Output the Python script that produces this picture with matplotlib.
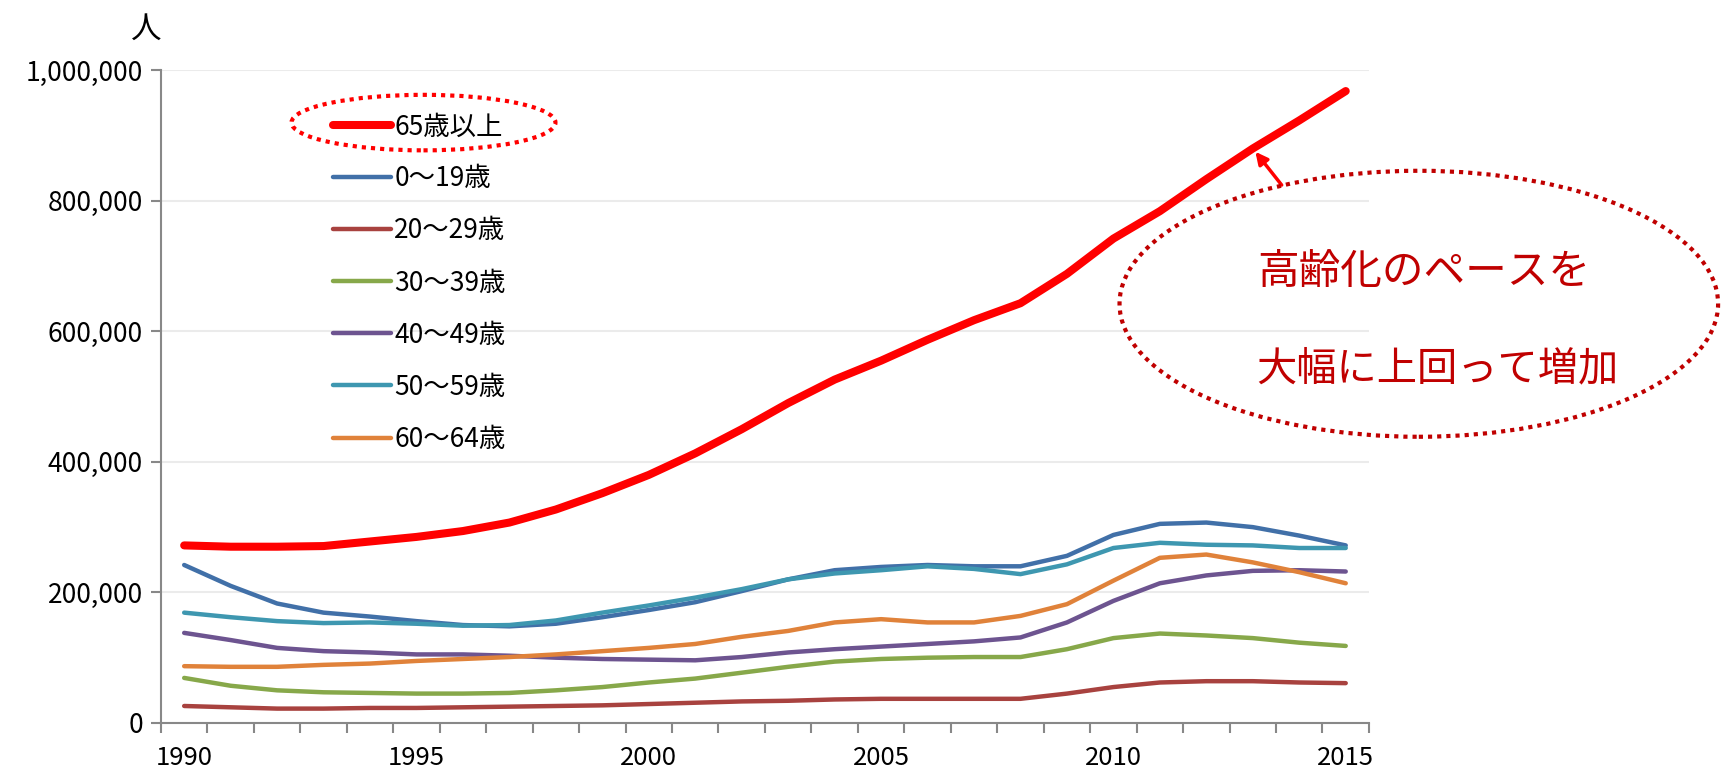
import matplotlib
matplotlib.use("Agg")
import matplotlib.pyplot as plt
from matplotlib.patches import Ellipse
from matplotlib.ticker import FuncFormatter
import numpy as np

plt.rcParams['font.family'] = ['Noto Sans CJK JP', 'DejaVu Sans']

years = list(range(1990, 2016))

# values (people)
age_65_over = [272000, 270000, 270000, 271000, 278000, 285000, 294000, 307000, 327000, 352000,
               380000, 413000, 450000, 490000, 526000, 555000, 587000, 617000, 643000, 688000,
               742000, 784000, 833000, 880000, 923000, 968000]
age_0_19 = [242000, 210000, 183000, 169000, 163000, 156000, 150000, 148000, 152000, 162000,
            173000, 185000, 202000, 220000, 234000, 239000, 242000, 240000, 240000, 256000,
            288000, 305000, 307000, 300000, 287000, 272000]
age_20_29 = [26000, 24000, 22000, 22000, 23000, 23000, 24000, 25000, 26000, 27000,
             29000, 31000, 33000, 34000, 36000, 37000, 37000, 37000, 37000, 45000,
             55000, 62000, 64000, 64000, 62000, 61000]
age_30_39 = [69000, 57000, 50000, 47000, 46000, 45000, 45000, 46000, 50000, 55000,
             62000, 68000, 77000, 86000, 94000, 98000, 100000, 101000, 101000, 113000,
             130000, 137000, 134000, 130000, 123000, 118000]
age_40_49 = [138000, 127000, 115000, 110000, 108000, 105000, 105000, 103000, 100000, 98000,
             97000, 96000, 101000, 108000, 113000, 117000, 121000, 125000, 131000, 154000,
             187000, 214000, 226000, 233000, 234000, 232000]
age_50_59 = [169000, 162000, 156000, 153000, 154000, 152000, 149000, 150000, 157000, 169000,
             180000, 192000, 205000, 220000, 229000, 234000, 240000, 236000, 228000, 243000,
             268000, 276000, 273000, 272000, 268000, 268000]
age_60_64 = [87000, 86000, 86000, 89000, 91000, 95000, 98000, 101000, 105000, 110000,
             115000, 121000, 132000, 141000, 154000, 159000, 154000, 154000, 164000, 182000,
             218000, 253000, 258000, 246000, 231000, 214000]

labels = ["65歳以上", "0〜19歳", "20〜29歳", "30〜39歳", "40〜49歳", "50〜59歳", "60〜64歳"]
colors = ["#FF0000", "#4170A8", "#A8423F", "#87A84A", "#6D5490", "#3E97B0", "#E0823A"]
series = [age_65_over, age_0_19, age_20_29, age_30_39, age_40_49, age_50_59, age_60_64]

fig = plt.figure(figsize=(17.25, 7.71), dpi=100)
ax = fig.add_axes([0.0933, 0.0623, 0.7003, 0.8467])

x = np.arange(len(years))
# draw the other series first, then the highlighted one on top
order = [1, 2, 3, 4, 5, 6, 0]
handles = {}
for i in order:
    lw = 5.8 if i == 0 else 3.2
    h, = ax.plot(x, series[i], color=colors[i], lw=lw, solid_capstyle='round',
                 solid_joinstyle='round', label=labels[i], zorder=3 if i else 4)
    handles[i] = h

ax.set_xlim(-0.5, len(years) - 0.5)
ax.set_ylim(0, 1000000)
ax.set_yticks(np.arange(0, 1000001, 200000))
ax.yaxis.set_major_formatter(FuncFormatter(lambda v, p: f"{int(v):,}"))
ax.grid(axis='y', color='#EBEBEB', lw=1.5, zorder=0)
ax.set_axisbelow(True)

ax.set_xticks(x[::5])
ax.set_xticklabels([str(y) for y in years[::5]])
ax.set_xticks(np.arange(-0.5, len(years)), minor=True)
ax.tick_params(axis='x', which='major', length=0, pad=16, labelsize=18.5)
ax.tick_params(axis='x', which='minor', length=7, width=1.5, color='#888888', direction='out')
ax.tick_params(axis='y', length=7, width=1.5, color='#888888', pad=6, labelsize=19)

for s in ['top', 'right']:
    ax.spines[s].set_visible(False)
for s in ['left', 'bottom']:
    ax.spines[s].set_color('#888888')
    ax.spines[s].set_linewidth(1.5)

fig.text(0.085, 0.962, "人", fontsize=22, ha='center', va='center')

leg = ax.legend([handles[i] for i in range(7)], labels, loc='upper left',
                bbox_to_anchor=(0.193, 0.853), bbox_transform=fig.transFigure,
                frameon=False, fontsize=19, handlelength=2.2, handletextpad=0.12,
                labelspacing=0.95, borderpad=0, borderaxespad=0)

# dotted ellipse around the 65+ legend entry
fig.patches.append(Ellipse((0.2455, 0.841), 0.153, 0.072, transform=fig.transFigure,
                           fill=False, ec='#FF0000', lw=3, ls=(0, (1, 1.2))))

# big dotted ellipse with the comment
fig.patches.append(Ellipse((0.8225, 0.606), 0.347, 0.345, transform=fig.transFigure,
                           fill=False, ec='#C00000', lw=3, ls=(0, (1, 1.2))))
fig.text(0.8255, 0.646, "高齢化のペースを", fontsize=30, color='#C00000', ha='center', va='center')
fig.text(0.8335, 0.522, "大幅に上回って増加", fontsize=29, color='#C00000', ha='center', va='center')

ax.annotate("", xy=(23, 880000), xycoords='data',
            xytext=(0.743, 0.76), textcoords='figure fraction',
            arrowprops=dict(arrowstyle='-|>', color='#FF0000', lw=2.5,
                            mutation_scale=18, shrinkA=0, shrinkB=3))

fig.savefig("out.png", dpi=100)
